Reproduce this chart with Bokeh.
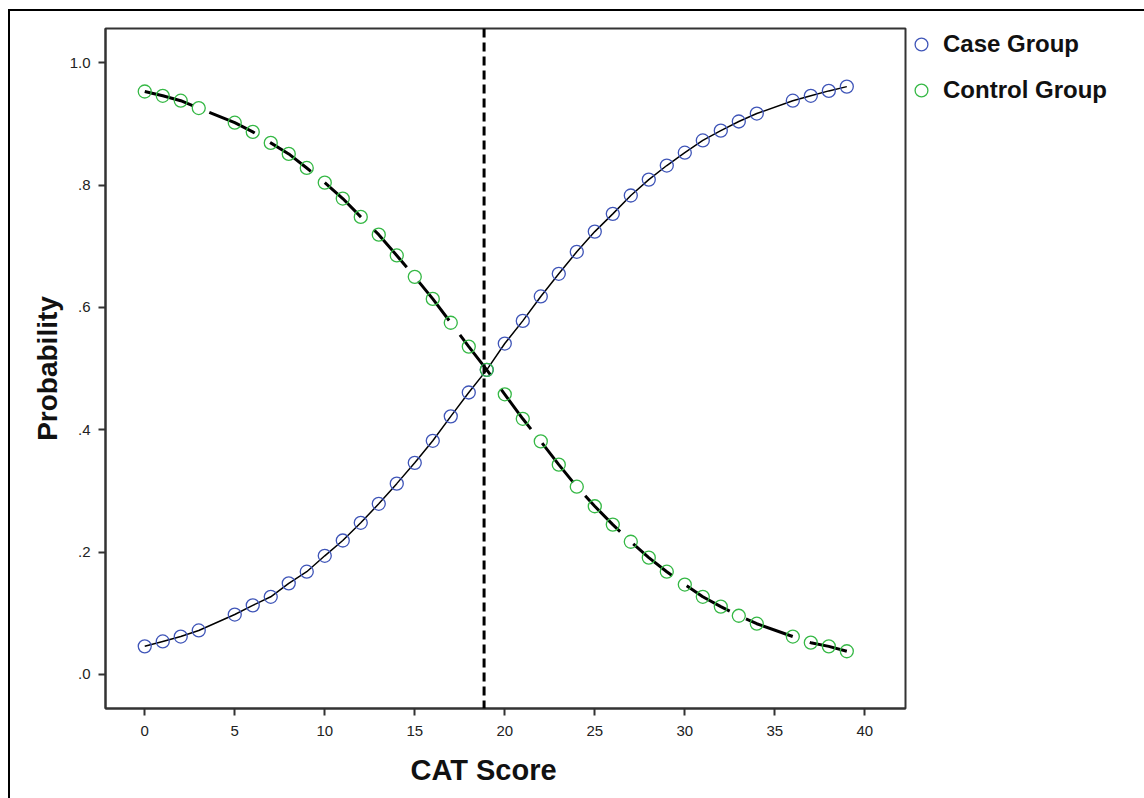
from bokeh.plotting import figure
from bokeh.models import Legend, LegendItem, Span, FixedTicker, Title
from bokeh.embed import file_html
from bokeh.resources import INLINE

# ---- data ----
cat_score = [0, 1, 2, 3, 5, 6, 7, 8, 9, 10, 11, 12, 13, 14, 15, 16, 17, 18, 19,
             20, 21, 22, 23, 24, 25, 26, 27, 28, 29, 30, 31, 32, 33, 34, 36, 37, 38, 39]
case_prob = [0.046, 0.054, 0.062, 0.072, 0.098, 0.113, 0.127, 0.149, 0.168, 0.194,
             0.219, 0.248, 0.279, 0.312, 0.346, 0.382, 0.422, 0.461, 0.498, 0.541,
             0.578, 0.618, 0.655, 0.691, 0.724, 0.753, 0.783, 0.809, 0.832, 0.853,
             0.873, 0.889, 0.904, 0.917, 0.938, 0.946, 0.954, 0.961]
control_prob = [0.953, 0.946, 0.938, 0.926, 0.902, 0.887, 0.869, 0.851, 0.828, 0.804,
                0.778, 0.748, 0.719, 0.685, 0.650, 0.614, 0.575, 0.536, 0.498, 0.458,
                0.418, 0.381, 0.343, 0.307, 0.275, 0.245, 0.217, 0.191, 0.168, 0.147,
                0.127, 0.111, 0.096, 0.083, 0.062, 0.052, 0.046, 0.038]
x_ticks = [0, 5, 10, 15, 20, 25, 30, 35, 40]
y_ticks = [0.0, 0.2, 0.4, 0.6, 0.8, 1.0]
y_tick_labels = [".0", ".2", ".4", ".6", ".8", "1.0"]
cut_point = 18.85
series_names = ["Case Group", "Control Group"]

FONT = "Liberation Sans"
BLUE = "#3f55b8"
GREEN = "#35b845"

p = figure(frame_width=800, frame_height=680, x_range=(-2.18, 42.26), y_range=(-0.0556, 1.056),
           output_backend="svg", toolbar_location=None,
           min_border_left=95, min_border_right=239, min_border_top=17, min_border_bottom=79)
p.margin = (9, 0, 0, 8)
p.styles = {"border-top": "2px solid black", "border-left": "2px solid black"}
p.background_fill_color = "white"
p.border_fill_color = "white"
p.grid.visible = False
p.outline_line_color = "#333333"
p.outline_line_width = 2

# axes
for ax in (p.xaxis[0], p.yaxis[0]):
    ax.axis_line_color = "#333333"
    ax.axis_line_width = 2
    ax.major_tick_line_color = "#333333"
    ax.major_tick_line_width = 2
    ax.major_tick_out = 7
    ax.major_tick_in = 0
    ax.minor_tick_line_color = None
    ax.major_label_text_font = FONT
    ax.major_label_text_font_size = "15px"
    ax.major_label_text_color = "#222222"

p.xaxis.ticker = FixedTicker(ticks=x_ticks)
p.yaxis.ticker = FixedTicker(ticks=y_ticks)
p.yaxis.major_label_overrides = {t: l for t, l in zip(y_ticks, y_tick_labels)}
p.xaxis.major_label_standoff = 10
p.yaxis.major_label_standoff = 8

p.yaxis.axis_label = "Probability"
p.yaxis.axis_label_text_font = FONT
p.yaxis.axis_label_text_font_size = "28px"
p.yaxis.axis_label_text_font_style = "bold"
p.yaxis.axis_label_text_color = "#111111"
p.yaxis.axis_label_standoff = 4

xtitle = Title(text="CAT Score", align="left", offset=305, text_font=FONT,
               text_font_size="29px", text_font_style="bold", text_color="#111111",
               standoff=26)
p.add_layout(xtitle, "below")

# fitted lines
p.line(cat_score, case_prob, line_color="black", line_width=1.5)
p.line(cat_score, control_prob, line_color="black", line_width=3, line_dash="50 18")

# points
r_case = p.scatter(cat_score, case_prob, marker="circle", size=13, fill_color=None,
                   line_color=BLUE, line_width=1.3)
r_ctrl = p.scatter(cat_score, control_prob, marker="circle", size=13, fill_color=None,
                   line_color=GREEN, line_width=1.3)

# cut point
p.add_layout(Span(location=cut_point, dimension="height", line_color="black",
                  line_width=3, line_dash="9 5"))

legend = Legend(items=[LegendItem(label=series_names[0], renderers=[r_case]),
                       LegendItem(label=series_names[1], renderers=[r_ctrl])],
                location="top_left")
legend.border_line_color = None
legend.background_fill_alpha = 0
legend.label_text_font = FONT
legend.label_text_font_size = "24px"
legend.label_text_font_style = "bold"
legend.label_text_color = "#111111"
legend.glyph_width = 32
legend.glyph_height = 32
legend.label_height = 32
legend.spacing = 14
legend.padding = 4
legend.margin = 0
legend.label_standoff = 6
p.add_layout(legend, "right")

open("out.html", "w").write(file_html(p, INLINE))
